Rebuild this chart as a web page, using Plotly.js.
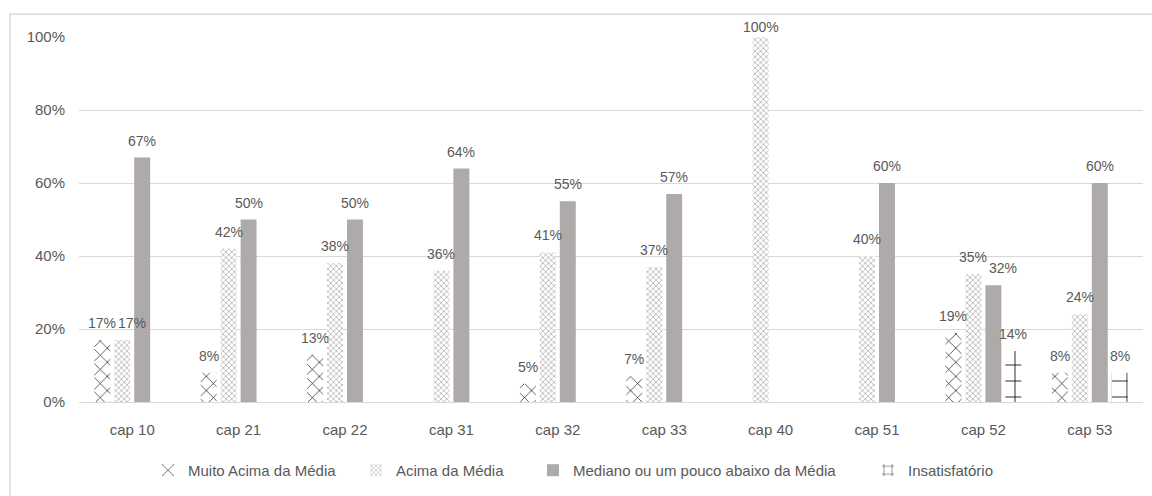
<!DOCTYPE html>
<html>
<head>
<meta charset="utf-8">
<script src="https://cdn.plot.ly/plotly-3.0.1.min.js"></script>
<style>
  html, body { margin: 0; padding: 0; background: #ffffff; }
  #chart { width: 1152px; height: 496px; }
</style>
</head>
<body>
<div id="chart"></div>
<script>
// Categories and series values (shares per chapter)
const categories = ['cap 10', 'cap 21', 'cap 22', 'cap 31', 'cap 32', 'cap 33', 'cap 40', 'cap 51', 'cap 52', 'cap 53'];
const muitoAcima = [0.17, 0.08, 0.13, 0, 0.05, 0.07, 0, 0, 0.19, 0.08];
const acima = [0.17, 0.42, 0.38, 0.36, 0.41, 0.37, 1.00, 0.40, 0.35, 0.24];
const mediano = [0.67, 0.50, 0.50, 0.64, 0.55, 0.57, 0, 0.60, 0.32, 0.60];
const insatisfatorio = [0, 0, 0, 0, 0, 0, 0, 0, 0.14, 0.08];
const seriesNames = ['Muito Acima da Média', 'Acima da Média', 'Mediano ou um pouco abaixo da Média', 'Insatisfatório'];
const yTickVals = [0, 0.2, 0.4, 0.6, 0.8, 1.0];
const yTickText = ['0%', '20%', '40%', '60%', '80%', '100%'];

const W = 1152, H = 496;
const M = { l: 79, r: 9, t: 37, b: 91 };
const plotW = W - M.l - M.r, plotH = H - M.t - M.b;
const px2x = p => (p - M.l) / plotW;
const px2y = p => (H - M.b - p) / plotH;

const FONT = 'Liberation Sans, Arial, sans-serif';
const TXT = '#595959';
const BARGAP = 0.25, GROUPGAP = 0.2;

const allSeries = [muitoAcima, acima, mediano, insatisfatorio];
const markers = [
  { color: '#ffffff', pattern: { shape: 'x', fgcolor: '#000000', bgcolor: '#ffffff', size: 10, solidity: 0.12 } },
  { color: '#ffffff', pattern: { shape: 'x', fgcolor: '#b0b0b0', bgcolor: '#ffffff', size: 4, solidity: 0.35 } },
  { color: '#aeaaaa' },
  { color: '#ffffff', pattern: { shape: '+', fgcolor: '#000000', bgcolor: '#ffffff', size: 16, solidity: 0.1 } }
];
const legendIds = ['legend', 'legend2', 'legend3', 'legend4'];
const legendTextStart = [190, 398, 575, 910];

const traces = allSeries.map((vals, i) => ({
  type: 'bar',
  name: seriesNames[i],
  x: categories,
  y: vals,
  marker: Object.assign({ line: { width: 0 } }, markers[i]),
  legend: legendIds[i],
  showlegend: true,
  hoverinfo: 'x+y+name'
}));

// Value labels above each non-zero bar, positioned from the grouped-bar geometry.
// When a label sits at nearly the same height as its left neighbour, nudge it right.
const annotations = [];
const nSeries = allSeries.length;
const slot = (1 - BARGAP) / nSeries;
allSeries.forEach((vals, i) => {
  vals.forEach((v, k) => {
    if (v <= 0) return;
    const prev = i > 0 ? allSeries[i - 1][k] : 0;
    const crowded = prev > 0 && Math.abs(prev - v) < 0.04;
    annotations.push({
      x: k - (1 - BARGAP) / 2 + (i + 0.5) * slot,
      y: v,
      xref: 'x', yref: 'y',
      text: Math.round(v * 100) + '%',
      showarrow: false,
      xanchor: 'center', yanchor: 'bottom',
      xshift: crowded ? 10 : 0,
      yshift: v > 0.9 ? 0 : 7,
      font: { family: FONT, size: 14, color: TXT }
    });
  });
});

const layout = {
  width: W, height: H,
  margin: M,
  paper_bgcolor: '#ffffff',
  plot_bgcolor: '#ffffff',
  barmode: 'group',
  bargap: BARGAP,
  bargroupgap: GROUPGAP,
  showlegend: true,
  font: { family: FONT, size: 15, color: TXT },
  xaxis: {
    type: 'category',
    showgrid: false, showline: false, zeroline: false,
    ticks: '', ticklabelstandoff: 17,
    tickfont: { family: FONT, size: 15, color: TXT },
    fixedrange: true
  },
  yaxis: {
    range: [0, 1.0005],
    tickvals: yTickVals, ticktext: yTickText,
    showgrid: true, gridcolor: '#d9d9d9', gridwidth: 1,
    zeroline: true, zerolinecolor: '#d9d9d9', zerolinewidth: 1,
    showline: false, ticks: '', ticklabelstandoff: 13,
    tickfont: { family: FONT, size: 15, color: TXT },
    fixedrange: true
  },
  annotations: annotations,
  shapes: [{
    type: 'rect', xref: 'paper', yref: 'paper',
    x0: px2x(10), x1: px2x(1170), y0: px2y(520), y1: px2y(14),
    line: { color: '#d9d9d9', width: 1.5 }, fillcolor: 'rgba(0,0,0,0)', layer: 'below'
  }]
};

legendIds.forEach((id, i) => {
  layout[id] = {
    orientation: 'h',
    x: px2x(legendTextStart[i] - 42), xanchor: 'left',
    y: px2y(474), yanchor: 'middle',
    bgcolor: 'rgba(0,0,0,0)',
    itemwidth: 30,
    visible: true,
    font: { family: FONT, size: 15, color: TXT }
  };
});

Plotly.newPlot('chart', traces, layout, { displayModeBar: false, staticPlot: true });
</script>
</body>
</html>
